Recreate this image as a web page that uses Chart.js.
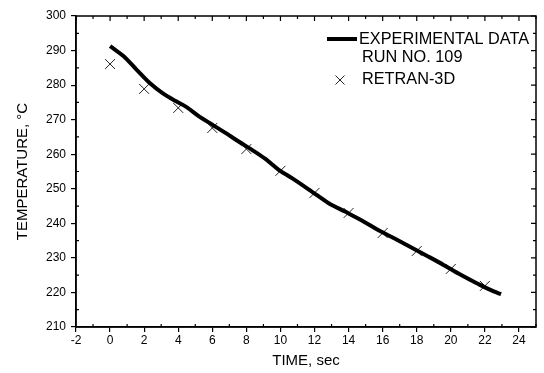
<!DOCTYPE html>
<html>
<head>
<meta charset="utf-8">
<script src="https://cdn.jsdelivr.net/npm/chart.js@4.4.1/dist/chart.umd.min.js"></script>
<style>
html,body{margin:0;padding:0;background:#fff;}
#wrap{width:544px;height:373px;position:relative;}
</style>
</head>
<body>
<div id="wrap"><canvas id="c" width="544" height="373"></canvas></div>
<script>
// Experimental data, run no. 109 (time in sec, temperature in °C)
const expTime = [0,0.78,1.55,2.33,3.1,3.88,4.47,5.24,6.02,6.8,7.57,8.35,9.1,9.9,10.7,11.84,12.81,13.79,14.75,15.73,16.7,17.66,18.64,19.6,20.58,21.55,22.52,22.95];
const expTemp = [291.3,288.4,284.5,280.6,277.6,275.3,273.7,270.9,268.5,266.1,263.6,261.2,258.7,255.5,253.0,249.2,245.9,243.4,240.9,238.1,235.6,233.1,230.5,227.9,225.1,222.6,220.3,219.5];
// RETRAN-3D calculation
const retranTime = [0,2,4,6,8,10,12,14,16,18,20,22];
const retranTemp = [286.1,278.9,273.4,267.6,261.5,255.2,248.8,243.0,237.2,232.0,226.8,221.9];
// axes
const xTicks = [-2,0,2,4,6,8,10,12,14,16,18,20,22,24];
const yTicks = [210,220,230,240,250,260,270,280,290,300];
const xRange = [-2, 25];
const yRange = [210, 300];
const legendLabels = ["EXPERIMENTAL DATA", "RUN NO. 109", "RETRAN-3D"];
const xTitle = "TIME, sec";
const yTitle = "TEMPERATURE, °C";

const FONT = "'Liberation Sans', Arial, Helvetica, sans-serif";

const frame = {
  id: 'frame',
  afterDraw(chart) {
    const ctx = chart.ctx;
    const a = chart.chartArea;
    const xs = chart.scales.x, ys = chart.scales.y;
    ctx.save();
    ctx.strokeStyle = '#000';
    ctx.lineWidth = 1.5;
    ctx.strokeRect(a.left, a.top, a.right - a.left, a.bottom - a.top);
    ctx.lineWidth = 1.2;
    ctx.beginPath();
    for (let v = xRange[0]; v <= xRange[1]; v += 1) {
      const px = xs.getPixelForValue(v);
      const major = (v % 2 === 0);
      const len = major ? 5 : 3;
      ctx.moveTo(px, a.top); ctx.lineTo(px, a.top + len);
      if (!major) { ctx.moveTo(px, a.bottom); ctx.lineTo(px, a.bottom - len); }
    }
    for (let v = yRange[0]; v <= yRange[1]; v += 5) {
      const py = ys.getPixelForValue(v);
      const major = (v % 10 === 0);
      const len = major ? 5 : 3;
      ctx.moveTo(a.right, py); ctx.lineTo(a.right - len, py);
      if (!major) { ctx.moveTo(a.left, py); ctx.lineTo(a.left + len, py); }
    }
    ctx.stroke();

    // legend
    ctx.lineWidth = 4;
    ctx.lineCap = 'butt';
    ctx.beginPath();
    ctx.moveTo(327, 39); ctx.lineTo(357, 39);
    ctx.stroke();
    ctx.lineWidth = 1;
    ctx.strokeStyle = '#222';
    ctx.beginPath();
    const mx = 340, my = 80, r = 4.5;
    ctx.moveTo(mx - r, my - r); ctx.lineTo(mx + r, my + r);
    ctx.moveTo(mx - r, my + r); ctx.lineTo(mx + r, my - r);
    ctx.stroke();
    ctx.fillStyle = '#000';
    ctx.font = '16.3px ' + FONT;
    ctx.textBaseline = 'middle';
    ctx.textAlign = 'left';
    ctx.fillText(legendLabels[0], 359, 40);
    ctx.fillText(legendLabels[1], 362, 58);
    ctx.fillText(legendLabels[2], 362, 80);
    ctx.restore();
  }
};

new Chart(document.getElementById('c'), {
  type: 'scatter',
  data: {
    datasets: [
      {
        label: 'EXPERIMENTAL DATA RUN NO. 109',
        data: expTime.map((t, i) => ({x: t, y: expTemp[i]})),
        showLine: true,
        borderColor: '#000',
        borderWidth: 4,
        pointRadius: 0,
        cubicInterpolationMode: 'monotone',
        fill: false
      },
      {
        label: 'RETRAN-3D',
        data: retranTime.map((t, i) => ({x: t, y: retranTemp[i]})),
        showLine: false,
        pointStyle: 'crossRot',
        pointRadius: 7,
        pointBorderWidth: 1,
        pointBorderColor: '#222',
        pointBackgroundColor: '#222'
      }
    ]
  },
  options: {
    responsive: false,
    animation: false,
    devicePixelRatio: 1,
    layout: {padding: {top: 16, right: 5, left: 0, bottom: 0}},
    plugins: {legend: {display: false}, tooltip: {enabled: false}},
    scales: {
      x: {
        type: 'linear',
        min: xRange[0], max: xRange[1],
        afterBuildTicks: s => { s.ticks = xTicks.map(v => ({value: v})); },
        afterFit: s => { s.height = 46; },
        grid: {display: true, drawOnChartArea: false, drawTicks: true, tickLength: 5, color: '#000', lineWidth: 1.2},
        border: {display: true, color: '#000', width: 1.5},
        ticks: {color: '#000', font: {family: FONT, size: 12}, padding: 1, maxRotation: 0, autoSkip: false},
        title: {display: true, text: xTitle, color: '#000', font: {family: FONT, size: 15}, padding: {top: 0, bottom: 3}}
      },
      y: {
        type: 'linear',
        min: yRange[0], max: yRange[1],
        afterBuildTicks: s => { s.ticks = yTicks.map(v => ({value: v})); },
        afterFit: s => { s.width = 76; },
        grid: {display: true, drawOnChartArea: false, drawTicks: true, tickLength: 5, color: '#000', lineWidth: 1.2},
        border: {display: true, color: '#000', width: 1.5},
        ticks: {color: '#000', font: {family: FONT, size: 12}, padding: 5, autoSkip: false},
        title: {display: true, text: yTitle, color: '#000', font: {family: FONT, size: 15}, padding: {top: 14, bottom: 0}}
      }
    }
  },
  plugins: [frame]
});
</script>
</body>
</html>
